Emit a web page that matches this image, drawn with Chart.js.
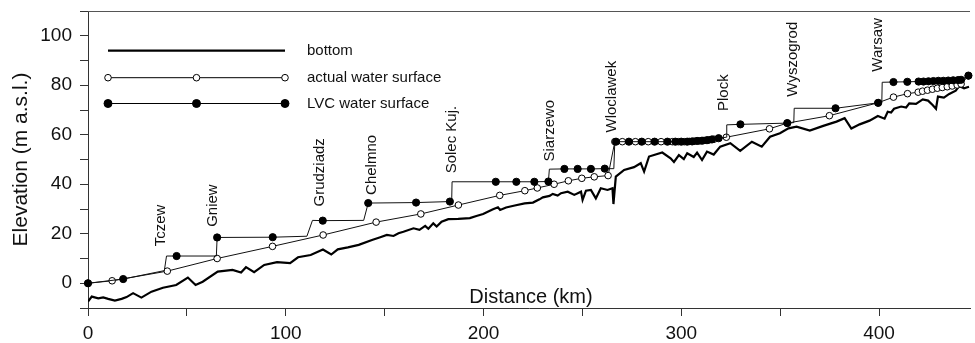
<!DOCTYPE html>
<html>
<head>
<meta charset="utf-8">
<script src="https://cdn.jsdelivr.net/npm/chart.js@4/dist/chart.umd.min.js"></script>
<style>
  html, body { margin: 0; padding: 0; background: #fff; overflow: hidden; }
  #wrap { width: 975px; height: 343px; }
</style>
</head>
<body>
<div id="wrap"><canvas id="profile" width="975" height="343"></canvas></div>
<script>
// river bed profile (km from mouth, m a.s.l.)
const bottomKm = [0, 1.9, 5.2, 7.7, 10.2, 13.6, 17.0, 19.5, 22.8, 27.0,
  32.1, 37.9, 44.6, 50.5, 54.4, 58.0, 65.6, 73.1, 77.4, 79.9,
  84.0, 89.1, 95.6, 102.2, 106.2, 112.6, 118.8, 123.0, 126.3, 131.4,
  136.9, 143.6, 147.8, 151.1, 154.5, 157.0, 159.5, 164.6, 167.6, 170.5,
  172.1, 174.6, 176.3, 178.8, 182.2, 187.2, 193.1, 196.4, 199.8, 204.8,
  207.3, 208.4, 211.4, 215.8, 220.8, 225.0, 228.3, 230.0, 233.4, 235.0,
  237.5, 239.2, 242.6, 245.9, 249.3, 250.1, 251.8, 254.3, 256.8, 259.3,
  262.7, 265.2, 265.7, 266.9, 271.1, 276.1, 279.5, 281.2, 283.7, 286.2,
  290.4, 294.6, 296.3, 298.8, 301.3, 303.0, 306.3, 308.0, 310.5, 313.0,
  316.4, 319.7, 324.8, 329.8, 335.7, 340.7, 344.9, 349.9, 354.2, 358.3,
  365.0, 371.8, 378.5, 382.6, 386.0, 390.2, 395.2, 399.4, 402.8, 404.4,
  406.1, 407.6, 411.2, 413.7, 415.3, 418.7, 422.1, 424.8, 427.1, 428.8,
  429.8, 432.8, 435.5, 438.8, 440.5, 443.0, 445.5];
const bottomElev = [-7.4, -5.4, -6.1, -5.7, -6.3, -7.0, -6.3, -5.6, -4.0, -5.8,
  -3.4, -1.8, -0.7, 2.3, -0.7, 0.6, 4.7, 5.4, 4.3, 6.5,
  4.5, 7.4, 8.5, 8.1, 10.5, 11.4, 13.6, 11.6, 13.7, 14.5,
  15.5, 17.5, 18.6, 19.5, 19.1, 20.2, 20.8, 22.2, 21.6, 23.2,
  22.0, 24.2, 22.9, 24.9, 25.9, 26.0, 26.3, 27.2, 28.0, 29.9,
  30.7, 29.6, 30.6, 31.4, 32.3, 32.6, 33.9, 34.7, 35.3, 36.1,
  35.4, 36.4, 37.0, 35.7, 37.0, 33.7, 37.4, 37.7, 34.3, 38.4,
  37.7, 38.4, 32.0, 43.1, 45.8, 46.9, 48.5, 45.1, 51.2, 51.8,
  52.8, 50.5, 49.0, 51.8, 50.2, 52.5, 51.0, 52.8, 49.8, 53.2,
  52.0, 55.2, 56.6, 53.5, 57.2, 55.2, 59.2, 60.6, 62.6, 63.3,
  61.7, 63.6, 65.3, 66.7, 62.5, 64.2, 65.7, 67.6, 66.5, 69.3,
  69.0, 70.5, 71.4, 71.0, 72.7, 72.5, 74.3, 73.8, 72.0, 70.5,
  75.4, 75.0, 76.5, 77.8, 79.7, 78.8, 79.4];

// actual water surface
const actualKm = [0, 12.2, 40.1, 65.3, 93.3, 118.9, 145.7, 168.3, 187.3, 208.2,
  220.9, 227.2, 235.7, 242.9, 249.7, 256.0, 263.0, 266.4, 270.2, 276.8,
  283.3, 289.8, 295.5, 298.5, 301.5, 304.0, 306.5, 309.0, 311.5, 314.0,
  316.5, 322.8, 344.6, 353.6, 374.9, 399.4, 407.3, 414.4, 419.8, 422.0,
  424.5, 427.0, 429.5, 432.0, 434.5, 437.0, 439.5, 441.5, 445.2];
const actualElev = [0, 1.0, 4.9, 10.0, 14.9, 19.5, 24.7, 28.0, 31.6, 35.5,
  37.4, 38.5, 40.0, 41.4, 42.4, 43.0, 43.5, 57.2, 57.2, 57.2,
  57.2, 57.2, 57.2, 57.2, 57.2, 57.3, 57.4, 57.5, 57.7, 57.9,
  58.2, 59.0, 62.4, 64.7, 67.7, 72.9, 75.2, 76.6, 77.2, 77.6,
  78.0, 78.4, 78.8, 79.1, 79.4, 79.7, 80.1, 80.5, 83.8];

// LVC (lower Vistula cascade) water surface, marked = computed point
const lvcKm = [0, 17.8, 38.6, 39.7, 44.8, 64.9, 65.3, 93.4, 110.7, 113.5,
  118.7, 139.4, 141.7, 165.9, 183.0, 183.9, 184.1, 206.2, 216.6, 225.7,
  232.8, 233.3, 240.9, 247.6, 254.3, 261.3, 265.9, 266.4, 267.0, 273.5,
  280.0, 286.5, 293.0, 297.0, 300.0, 303.0, 305.5, 308.0, 310.5, 313.0,
  315.5, 318.9, 322.8, 323.0, 329.9, 353.6, 356.9, 357.1, 378.0, 399.6,
  401.4, 401.6, 407.3, 414.3, 420.0, 422.5, 425.0, 427.5, 430.0, 432.5,
  435.0, 437.5, 440.0, 441.5, 445.2];
const lvcElev = [0, 1.7, 5.1, 11.0, 11.0, 11.0, 18.5, 18.6, 19.0, 25.4,
  25.3, 25.4, 32.4, 32.6, 33.0, 33.0, 41.0, 41.0, 41.0, 41.0,
  41.1, 46.1, 46.2, 46.2, 46.2, 46.3, 46.3, 57.2, 57.2, 57.2,
  57.2, 57.2, 57.2, 57.2, 57.2, 57.2, 57.3, 57.5, 57.6, 57.8,
  58.1, 58.6, 59.0, 64.0, 64.2, 64.7, 64.9, 70.7, 70.7, 72.9,
  73.0, 81.2, 81.3, 81.4, 81.5, 81.5, 81.6, 81.7, 81.8, 81.8,
  81.9, 82.0, 82.1, 82.2, 83.9];
const lvcMarked = [1, 1, 0, 0, 1, 0, 1, 1, 0, 0,
  1, 0, 1, 1, 1, 0, 0, 1, 1, 1,
  1, 0, 1, 1, 1, 1, 0, 0, 1, 1,
  1, 1, 1, 1, 1, 1, 1, 1, 1, 1,
  1, 1, 0, 0, 1, 1, 0, 0, 1, 1,
  0, 0, 1, 1, 1, 1, 1, 1, 1, 1,
  1, 1, 1, 1, 1];

// towns along the river (label anchored at km / elevation)
const townNames = ['Tczew', 'Gniew', 'Grudziadz', 'Chelmno', 'Solec Kuj.', 'Siarzewo', 'Wloclawek', 'Plock', 'Wyszogrod', 'Warsaw'];
const townKm = [36.7, 63.1, 117.1, 143.6, 184.2, 233.4, 264.7, 321.4, 356.2, 399.4];
const townElev = [14.9, 22.8, 31.0, 35.7, 44.4, 49.2, 60.9, 69.6, 75.4, 85.5];

const xTickLabels = [0, 100, 200, 300, 400];
const yTickLabels = [0, 20, 40, 60, 80, 100];

const FONT = '"Liberation Sans", Arial, sans-serif';
const toPoints = (xs, ys) => xs.map((x, i) => ({ x, y: ys[i] }));

const overlay = {
  id: 'overlay',
  afterDatasetsDraw(chart) {
    const { ctx, chartArea: a, scales: { x, y } } = chart;
    ctx.save();

    // top frame line
    ctx.strokeStyle = '#555';
    ctx.lineWidth = 1;
    ctx.beginPath();
    ctx.moveTo(a.left, a.top + 0.5);
    ctx.lineTo(a.right, a.top + 0.5);
    ctx.stroke();

    // town names, rotated
    ctx.fillStyle = '#111';
    ctx.font = `15px ${FONT}`;
    ctx.textAlign = 'left';
    ctx.textBaseline = 'middle';
    townNames.forEach((name, i) => {
      ctx.save();
      ctx.translate(x.getPixelForValue(townKm[i]), y.getPixelForValue(townElev[i]));
      ctx.rotate(-Math.PI / 2);
      ctx.fillText(name, 0, 0);
      ctx.restore();
    });

    // x title sits inside the plot
    ctx.font = `20px ${FONT}`;
    ctx.textAlign = 'center';
    ctx.fillText('Distance (km)', (a.left + a.right) / 2 + 2, a.bottom - 11);

    // legend
    const rows = [
      { label: 'bottom', y: 39.7, marker: null, width: 2.2 },
      { label: 'actual water surface', y: 66.7, marker: 'open', width: 1 },
      { label: 'LVC water surface', y: 92.5, marker: 'filled', width: 1 },
    ];
    const x0 = a.left + 20, x1 = a.left + 197;
    ctx.font = `15px ${FONT}`;
    ctx.textAlign = 'left';
    rows.forEach((r) => {
      const yy = a.top + r.y;
      ctx.strokeStyle = '#000';
      ctx.lineWidth = r.width;
      ctx.beginPath();
      ctx.moveTo(x0, yy);
      ctx.lineTo(x1, yy);
      ctx.stroke();
      if (r.marker) {
        [x0, (x0 + x1) / 2, x1].forEach((mx) => {
          ctx.beginPath();
          ctx.arc(mx, yy, r.marker === 'open' ? 3.3 : 4, 0, Math.PI * 2);
          ctx.fillStyle = r.marker === 'open' ? '#fff' : '#000';
          ctx.fill();
          ctx.lineWidth = 1;
          ctx.stroke();
        });
      }
      ctx.fillStyle = '#111';
      ctx.fillText(r.label, a.left + 219, yy);
    });
    ctx.restore();
  },
};

new Chart(document.getElementById('profile'), {
  type: 'line',
  data: {
    datasets: [
      {
        label: 'LVC water surface',
        data: toPoints(lvcKm, lvcElev),
        borderColor: '#111',
        borderWidth: 1,
        backgroundColor: '#000',
        pointBackgroundColor: '#000',
        pointBorderColor: '#000',
        pointBorderWidth: 1,
        pointRadius: lvcMarked.map((m) => (m ? 3.6 : 0)),
        tension: 0,
        clip: false,
      },
      {
        label: 'actual water surface',
        data: toPoints(actualKm, actualElev),
        borderColor: '#111',
        borderWidth: 1,
        pointBackgroundColor: '#fff',
        pointBorderColor: '#000',
        pointBorderWidth: 1,
        pointRadius: 3.3,
        tension: 0,
        clip: false,
      },
      {
        label: 'bottom',
        data: toPoints(bottomKm, bottomElev),
        borderColor: '#000',
        borderWidth: 2.2,
        pointRadius: 0,
        tension: 0,
      },
    ],
  },
  options: {
    responsive: false,
    animation: false,
    devicePixelRatio: 1,
    layout: { padding: 0 },
    plugins: { legend: { display: false }, tooltip: { enabled: false } },
    scales: {
      x: {
        type: 'linear',
        min: 0,
        max: 446,
        afterFit: (s) => { s.height = 35; s.paddingLeft = 0; s.paddingRight = 0; },
        border: { color: '#333', width: 1 },
        grid: { drawOnChartArea: false, drawTicks: true, tickLength: 8, color: '#333' },
        ticks: {
          stepSize: 50,
          includeBounds: false,
          autoSkip: false,
          maxRotation: 0,
          padding: 6,
          color: '#111',
          font: { family: FONT, size: 19 },
          callback: (v) => (xTickLabels.includes(v) ? v : ''),
        },
      },
      y: {
        min: -10,
        max: 110,
        afterFit: (s) => { s.width = 88; s.paddingTop = 11; s.paddingBottom = 0; },
        border: { color: '#333', width: 1 },
        grid: { drawOnChartArea: false, drawTicks: true, tickLength: 8, color: '#333' },
        title: {
          display: true,
          text: 'Elevation (m a.s.l.)',
          color: '#111',
          font: { family: FONT, size: 21 },
          padding: { top: 9, bottom: 0 },
        },
        ticks: {
          stepSize: 10,
          autoSkip: false,
          padding: 8,
          color: '#111',
          font: { family: FONT, size: 19 },
          callback: (v) => (yTickLabels.includes(v) ? v : ''),
        },
      },
    },
  },
  plugins: [overlay],
});
</script>
</body>
</html>
